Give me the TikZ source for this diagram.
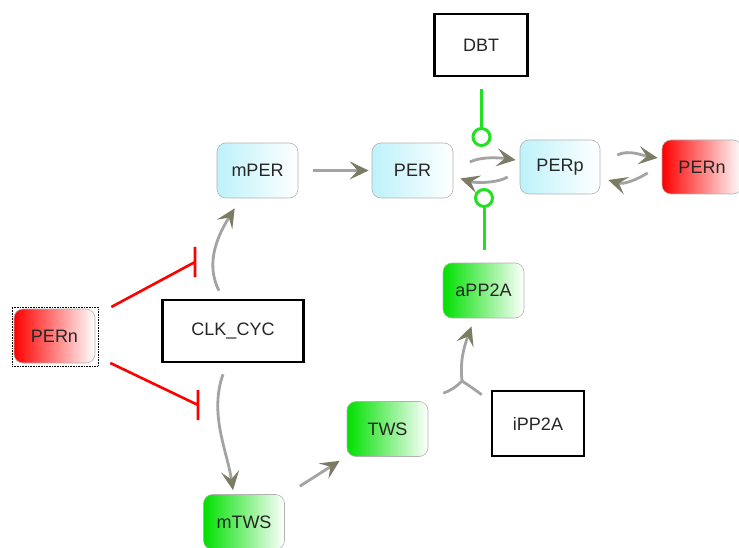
\documentclass[tikz,border=0pt]{standalone}
\usepackage{fontspec}
\setmainfont{Liberation Sans}
\usetikzlibrary{arrows.meta}
\definecolor{linegray}{HTML}{A3A3A3}
\definecolor{headolive}{HTML}{7C7C64}
\definecolor{palecyan}{HTML}{BDF2FA}
\definecolor{actgreen}{HTML}{00E000}
\definecolor{dotgreen}{HTML}{22E022}

\begin{document}
\begin{tikzpicture}[x=1pt,y=-1pt,font=\fontsize{18}{21}\selectfont,
		species/.style={rounded corners=9pt,draw=black!30,line width=0.6pt,minimum width=81pt,minimum height=55pt,right color=white,text=black!85},
		mrna/.style={species,left color=palecyan},
		prot/.style={species,left color=actgreen},
		nucl/.style={species,left color=red},
		gene/.style={draw,line width=2.6pt,minimum height=62pt,text=black!85},
		flow/.style={draw=linegray,line width=2.8pt,-{Stealth[length=19pt,width=18pt,inset=8pt,color=headolive]}},
		flowline/.style={draw=linegray,line width=2.8pt},
		inhib/.style={draw=red,line width=2.6pt},
		catal/.style={draw=dotgreen,line width=3pt},
		catdot/.style={circle,draw=dotgreen,fill=white,line width=3pt,minimum size=17pt,inner sep=0pt}]
		\useasboundingbox (0,0) rectangle (739,548);

		% genes and species
		\node[gene,minimum width=93pt] (dbt) at (481,45) {DBT};
		\node[gene,minimum width=141pt] (clk) at (233,331) {CLK\_CYC};
		\node[gene,minimum width=92pt,minimum height=65pt] (ipp) at (538,423.5) {iPP2A};
		\node[mrna] (mper) at (257.5,170.5) {mPER};
		\node[mrna] (per) at (412.5,170.5) {PER};
		\node[mrna,minimum width=80pt,minimum height=54pt] (perp) at (560,167) {PERp};
		\node[nucl,minimum width=80pt,minimum height=54pt] (pernr) at (702,167) {PERn};
		\node[prot] (app) at (483.5,290.5) {aPP2A};
		\node[prot] (tws) at (387.5,429) {TWS};
		\node[prot] (mtws) at (244,522) {mTWS};
		\node[draw,densely dotted,line width=0.6pt,minimum width=86pt,minimum height=59pt] (pernl-sel) at (55,336.5) {};
		\node[nucl,minimum height=54pt] (pernl) at (54.5,336) {PERn};

		% transcription
		\draw[flow] ([shift={(-14,-8)}]clk.north) .. controls +(-15,-29) and +(-15,24) .. ([shift={(18,10)}]mper.south west);
		\draw[flow] ([shift={(-10,11)}]clk.south) .. controls +(-14,40) and +(-6,-40) .. ([shift={(-11,-4)}]mtws.north);
		\draw[flow] ([xshift=15pt]mper.east) -- ([xshift=-3pt]per.west);
		\draw[flow] ([shift={(15,-8)}]mtws.north east) -- ([shift={(-7,4)}]tws.south west);

		% phosphorylation
		\draw[flow] ([shift={(16.5,-8.5)}]per.east) .. controls +(12,-6) and +(-14,-2) .. ([shift={(-4,-7)}]perp.west);
		\draw[flow] ([shift={(-12,10)}]perp.west) .. controls +(-10,6) and +(16,5) .. ([shift={(7,8)}]per.east);
		\draw[flow] ([shift={(17,-12)}]perp.east) .. controls +(12,-6) and +(-14,-2) .. ([shift={(-4,-9)}]pernr.west);
		\draw[flow] ([shift={(-14,6)}]pernr.west) .. controls +(-10,6) and +(16,5) .. ([shift={(8,13)}]perp.east);

		% PP2A activation
		\coordinate (join) at (462,381);
		\draw[flowline] ([shift={(15,-8)}]tws.north east) .. controls +(8,-3) and +(-6,6) .. (join);
		\draw[flowline] ([shift={(-9,5)}]ipp.north west) .. controls +(-8,-6) and +(6,4) .. (join);
		\draw[flow] (join) .. controls +(-2,-20) and +(-8,22) .. ([shift={(-12,8)}]app.south);

		% catalysis
		\node[catdot] (dbtdot) at (481.5,137) {};
		\node[catdot] (appdot) at (484,198) {};
		\draw[catal] ([shift={(0.5,12)}]dbt.south) -- (dbtdot.north);
		\draw[catal] ([shift={(0.5,-13)}]app.north) -- (appdot.south);

		% inhibition
		\coordinate (inh-mper) at (195,262);
		\coordinate (inh-mtws) at (198,405);
		\draw[inhib] ([shift={(16,-29)}]pernl.east) -- (inh-mper) ++(0,-15) -- ++(0,30);
		\draw[inhib] ([shift={(15,27)}]pernl.east) -- (inh-mtws) ++(0,-15) -- ++(0,30);
	\end{tikzpicture}
\end{document}
